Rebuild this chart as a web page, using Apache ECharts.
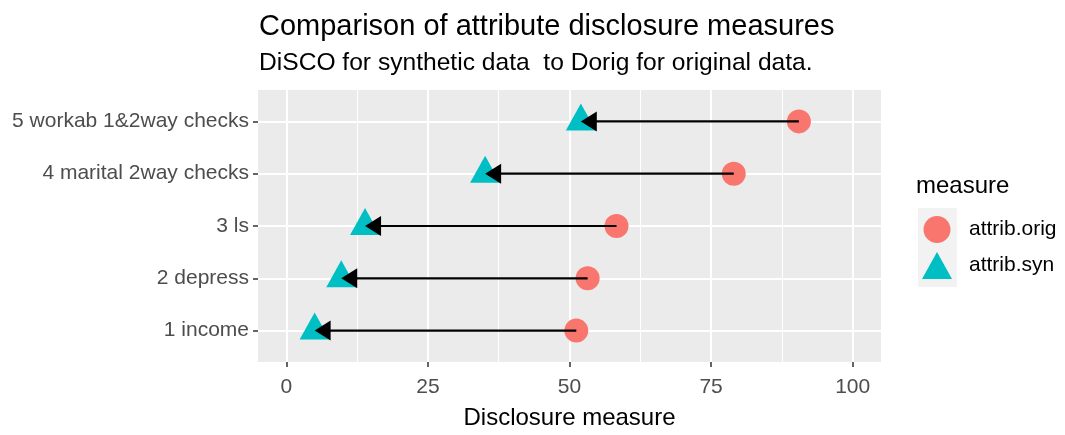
<!DOCTYPE html>
<html>
<head>
<meta charset="UTF-8">
<title>Comparison of attribute disclosure measures</title>
<script src="https://cdn.jsdelivr.net/npm/echarts@6/dist/echarts.min.js"></script>
<style>
	html, body { margin: 0; padding: 0; background: #fff; }
	#main { width: 1065px; height: 435px; }
</style>
</head>
<body>
	<div id="main"></div>
</body>
<script type="text/javascript">
	// categories bottom to top (y = 1..5)
	var categories = [ '1 income', '2 depress', '3 ls', '4 marital 2way checks', '5 workab 1&2way checks' ];
	var attribOrig = [ 51.2, 53.2, 58.3, 79.0, 90.5 ];
	var attribSyn = [ 5.0, 9.7, 13.9, 35.1, 52.0 ];
	var xTicks = [ 0, 25, 50, 75, 100 ];
	var xMinorTicks = [ 12.5, 37.5, 62.5, 87.5 ];
	var yTicks = [ 1, 2, 3, 4, 5 ];

	var FONT = 'Liberation Sans, Arial, sans-serif';
	var ORIG_COLOR = '#F8766D';
	var SYN_COLOR = '#00BFC4';

	var origData = [], synData = [], arrowData = [];
	for (var i = 0; i < categories.length; i++) {
		origData.push([ attribOrig[i], i + 1 ]);
		synData.push([ attribSyn[i], i + 1 ]);
		arrowData.push([ attribOrig[i], attribSyn[i], i + 1 ]);
	}

	function renderArrow(params, api) {
		var y = api.value(2);
		var p0 = api.coord([ api.value(0), y ]);
		var p1 = api.coord([ api.value(1), y ]);
		var dir = p0[0] > p1[0] ? 1 : -1;
		var len = 16, half = 10;
		return {
			type : 'group',
			children : [ {
				type : 'line',
				shape : { x1 : p0[0], y1 : p0[1], x2 : p1[0] + dir * len * 0.8, y2 : p1[1] },
				style : { stroke : '#000', lineWidth : 2.2 }
			}, {
				type : 'polygon',
				shape : { points : [ [ p1[0], p1[1] ], [ p1[0] + dir * len, p1[1] - half ], [ p1[0] + dir * len, p1[1] + half ] ] },
				style : { fill : '#000' }
			} ]
		};
	}

	var myChart = echarts.init(document.getElementById('main'), null, { renderer : 'canvas' });
	var option = {
		animation : false,
		backgroundColor : '#fff',
		title : [ {
			text : 'Comparison of attribute disclosure measures',
			left : 259, top : 12, padding : 0,
			textStyle : { fontFamily : FONT, fontSize : 29, fontWeight : 'normal', color : '#000' }
		}, {
			text : 'DiSCO for synthetic data  to Dorig for original data.',
			left : 259, top : 51, padding : 0,
			textStyle : { fontFamily : FONT, fontSize : 24.6, fontWeight : 'normal', color : '#000' }
		}, {
			text : 'measure',
			left : 916, top : 174, padding : 0,
			textStyle : { fontFamily : FONT, fontSize : 24, fontWeight : 'normal', color : '#000' }
		} ],
		graphic : [ {
			type : 'rect',
			shape : { x : 918, y : 208, width : 39, height : 79 },
			style : { fill : '#F2F2F2' },
			z : -1
		} ],
		legend : {
			data : [ 'attrib.orig', 'attrib.syn' ],
			orient : 'vertical',
			left : 922, top : 216,
			itemWidth : 30, itemHeight : 27, itemGap : 9,
			padding : 0,
			textStyle : { fontFamily : FONT, fontSize : 21, color : '#000', padding : [ 3, 0, 0, 12 ] }
		},
		grid : {
			left : 258, top : 90, width : 623, height : 277,
			show : true, backgroundColor : '#EBEBEB', borderWidth : 0,
			containLabel : false
		},
		xAxis : [ {
			type : 'value', min : -5, max : 105,
			name : 'Disclosure measure', nameLocation : 'middle', nameGap : 44,
			nameTextStyle : { fontFamily : FONT, fontSize : 24, color : '#000' },
			axisLine : { show : false, onZero : false },
			axisTick : { show : true, customValues : xTicks, length : 5, lineStyle : { color : '#333', width : 1.5 } },
			axisLabel : { customValues : xTicks, fontFamily : FONT, fontSize : 21, color : '#4D4D4D', margin : 15 },
			splitLine : { show : true, lineStyle : { color : '#fff', width : 2 } }
		}, {
			type : 'value', min : -5, max : 105, position : 'bottom',
			axisLine : { show : false, onZero : false },
			axisTick : { show : false, customValues : xMinorTicks },
			axisLabel : { show : false, customValues : xMinorTicks },
			splitLine : { show : true, lineStyle : { color : '#fff', width : 1 } }
		} ],
		yAxis : {
			type : 'value', min : 0.4, max : 5.6,
			axisLine : { show : false, onZero : false },
			axisTick : { show : true, customValues : yTicks, length : 5, lineStyle : { color : '#333', width : 1.5 } },
			axisLabel : {
				customValues : yTicks, fontFamily : FONT, fontSize : 21, color : '#4D4D4D', margin : 9,
				formatter : function(v) { return categories[Math.round(v) - 1]; }
			},
			splitLine : { show : true, lineStyle : { color : '#fff', width : 2 } }
		},
		series : [ {
			name : 'attrib.orig',
			type : 'scatter',
			symbol : 'circle', symbolSize : 24, symbolKeepAspect : true,
			itemStyle : { color : ORIG_COLOR, opacity : 1 },
			data : origData
		}, {
			name : 'attrib.syn',
			type : 'scatter',
			symbol : 'triangle', symbolSize : [ 30, 27 ], symbolOffset : [ 0, -4.5 ],
			itemStyle : { color : SYN_COLOR, opacity : 1 },
			data : synData
		}, {
			name : 'arrows',
			type : 'custom',
			renderItem : renderArrow,
			encode : { x : [ 0, 1 ], y : 2 },
			data : arrowData,
			z : 5
		} ]
	};
	myChart.setOption(option);
</script>
</html>
